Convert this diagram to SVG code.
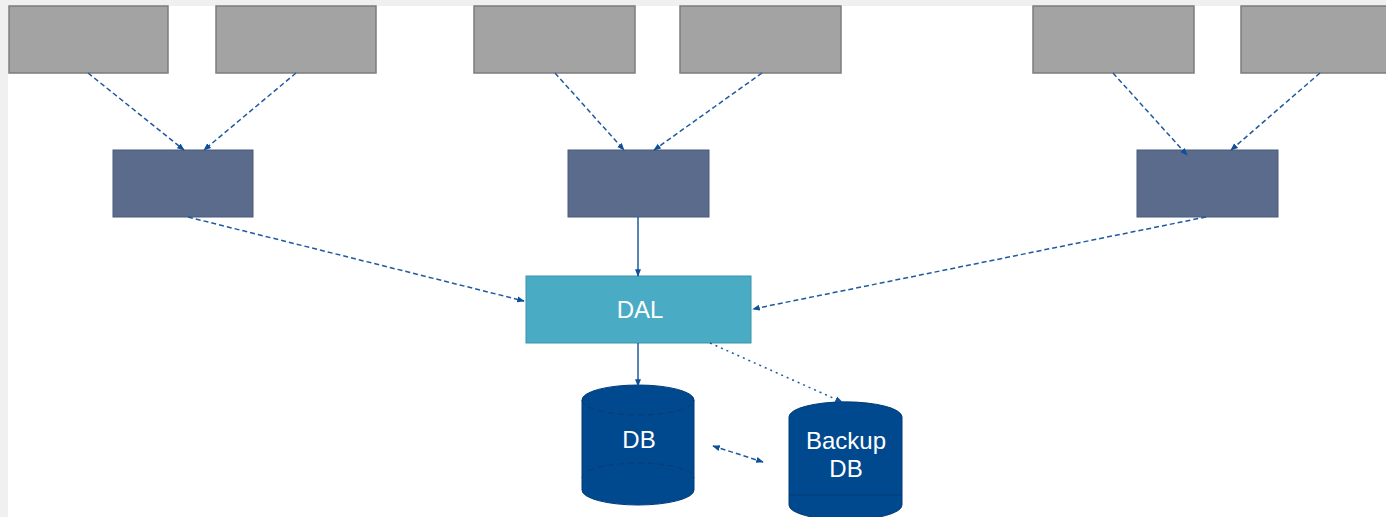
<svg xmlns="http://www.w3.org/2000/svg" width="1386" height="517" viewBox="0 0 1386 517">
<defs>
<style>
.src{fill:#a3a3a3;stroke:#7c7c7c;stroke-width:1.5}
.mid{fill:#5a6b8c;stroke:#4a5a78;stroke-width:1}
.dal{fill:#4aabc4;stroke:#3a93ad;stroke-width:1}
.db{fill:#00498f;stroke:#003a75;stroke-width:1}
.c{fill:none;stroke:#1f5a9e;stroke-width:1.5}
.d{stroke-dasharray:5 3}
.dt{stroke-dasharray:2 4}
.t{font-family:"Liberation Sans",Arial,sans-serif;font-size:24px;fill:#ffffff;text-anchor:middle}
.inner{fill:none;stroke:#0b3a70;stroke-width:1;stroke-dasharray:6 4}
</style>
<marker id="a" viewBox="0 0 10 10" refX="9" refY="5" markerWidth="5" markerHeight="5" orient="auto-start-reverse">
<path d="M0,1 L10,5 L0,9 z" fill="#0d4f98"/>
</marker>
</defs>
<rect x="0" y="0" width="1386" height="517" fill="#ffffff"/>
<rect x="0" y="0" width="1386" height="6" fill="#f0f0f0"/>
<rect x="0" y="0" width="8" height="517" fill="#f0f0f0"/>
<g id="src1"><rect class="src" x="9" y="6" width="159" height="67"/></g>
<g id="src2"><rect class="src" x="216" y="6" width="160" height="67"/></g>
<g id="src3"><rect class="src" x="474" y="6" width="161" height="67"/></g>
<g id="src4"><rect class="src" x="680" y="6" width="161" height="67"/></g>
<g id="src5"><rect class="src" x="1033" y="6" width="161" height="67"/></g>
<g id="src6"><rect class="src" x="1241" y="6" width="150" height="67"/></g>
<g id="mid1"><rect class="mid" x="113" y="150" width="140" height="67"/></g>
<g id="mid2"><rect class="mid" x="568" y="150" width="141" height="67"/></g>
<g id="mid3"><rect class="mid" x="1137" y="150" width="141" height="67"/></g>
<g id="dal"><rect class="dal" x="526" y="276" width="225" height="67"/><text class="t" x="640" y="318">DAL</text></g>
<g id="db">
<path class="db" d="M582,400 A56,15 0 0 1 694,400 L694,490 A56,15 0 0 1 582,490 Z"/>
<path class="inner" d="M582,400 A56,15 0 0 0 694,400"/>
<path class="inner" d="M582,478 A56,15 0 0 1 694,478"/>
<text class="t" x="639" y="448">DB</text>
</g>
<g id="backup">
<path class="db" d="M789,417 A56,15 0 0 1 902,417 L902,505 A56.5,15 0 0 1 789,505 Z"/>
<line x1="789" y1="495" x2="902" y2="495" stroke="#0b3a70" stroke-width="1"/>
<text class="t" x="846" y="449">Backup</text>
<text class="t" x="846" y="477">DB</text>
</g>
<g id="connectors">
<line class="c d" x1="88" y1="73" x2="184" y2="150" marker-end="url(#a)"/>
<line class="c d" x1="296" y1="73" x2="204" y2="150" marker-end="url(#a)"/>
<line class="c d" x1="555" y1="73" x2="624" y2="150" marker-end="url(#a)"/>
<line class="c d" x1="762" y1="73" x2="654" y2="150" marker-end="url(#a)"/>
<line class="c d" x1="1113" y1="73" x2="1187" y2="155" marker-end="url(#a)"/>
<line class="c d" x1="1320" y1="73" x2="1231" y2="150" marker-end="url(#a)"/>
<line class="c d" x1="188" y1="217" x2="524" y2="301" marker-end="url(#a)"/>
<line class="c" x1="638" y1="217" x2="638" y2="276" marker-end="url(#a)"/>
<line class="c d" x1="1206" y1="217" x2="753" y2="309" marker-end="url(#a)"/>
<line class="c" x1="638" y1="343" x2="638" y2="386" marker-end="url(#a)"/>
<line class="c dt" x1="710" y1="343" x2="842" y2="402" marker-end="url(#a)"/>
<line class="c d" x1="713" y1="446" x2="763" y2="462" marker-start="url(#a)" marker-end="url(#a)"/>
</g>
</svg>
